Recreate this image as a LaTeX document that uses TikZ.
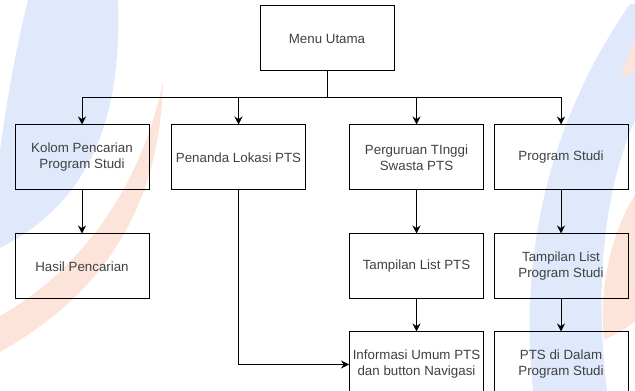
\documentclass[tikz,border=0pt]{standalone}
\usepackage{fontspec}
\setmainfont{Liberation Sans}
\usepackage{tikz}
\usetikzlibrary{positioning}
\usetikzlibrary{arrows.meta}

\definecolor{wmblue}{RGB}{224,233,252}
\definecolor{wmorange}{RGB}{252,228,218}
\definecolor{textgrey}{RGB}{64,64,64}

\begin{document}
\begin{tikzpicture}
[
x=0.75pt, y=-0.75pt,
box-a/.style={rectangle,draw,line width=0.75pt,minimum width=100.5pt,minimum height=48.75pt,
  align=center,text=textgrey,font=\fontsize{10}{12}\selectfont,inner sep=0pt},
arrow-a/.style={line width=0.75pt,-{Stealth[length=6pt,width=6pt]}},
line-a/.style={line width=0.75pt},
]
\useasboundingbox (0,0) rectangle (635,391);
% watermark in the background
\fill[wmblue] (28,0) -- (118,0) .. controls (122,110) and (95,200) .. (0,248)
  -- (0,150) .. controls (8,90) and (18,40) .. (28,0);
\fill[wmorange] (163,82) .. controls (160,200) and (110,290) .. (0,352)
  -- (0,316) .. controls (80,270) and (140,190) .. (163,82);
\fill[wmorange] (635,195) .. controls (612,230) and (598,290) .. (604,340)
  .. controls (620,332) .. (635,322) -- cycle;
\fill[wmblue] (630,4) .. controls (570,90) and (515,220) .. (533,391)
  -- (607,391) .. controls (596,300) and (600,200) .. (635,120) -- (635,4) -- cycle;
\fill[wmorange] (635,40) .. controls (628,55) and (624,66) .. (622,80)
  .. controls (628,74) .. (635,70) -- cycle;

% boxes
\node (menu) [box-a] at (327,38.5)                 {Menu Utama};
\node (kolom) [box-a] at (82,157.5)                {Kolom Pencarian\\Program Studi};
\node (penanda) [box-a] at (238.5,157.5)           {Penanda Lokasi PTS};
\node (pts) [box-a] at (416.5,157.5)               {Perguruan TInggi\\Swasta PTS};
\node (prodi) [box-a] at (561,157.5)               {Program Studi};
\node (hasil) [box-a, below = 32.25pt of kolom]    {Hasil Pencarian};
\node (listpts) [box-a, below = 32.25pt of pts]    {Tampilan List PTS};
\node (listprodi) [box-a, below = 32.25pt of prodi] {Tampilan List\\Program Studi};
\node (info) [box-a, below = 24pt of listpts]      {Informasi Umum PTS\\dan button Navigasi};
\node (dalam) [box-a, below = 24pt of listprodi]   {PTS di Dalam\\Program Studi};

% connectors
\coordinate (bus) at (327,98);
\draw [line-a] (menu) -- (bus);
\draw [arrow-a] (bus) -| (kolom);
\draw [arrow-a] (bus) -| (penanda);
\draw [arrow-a] (bus) -| (pts);
\draw [arrow-a] (bus) -| (prodi);
\draw [arrow-a] (kolom) -- (hasil);
\draw [arrow-a] (pts) -- (listpts);
\draw [arrow-a] (listpts) -- (info);
\draw [arrow-a] (prodi) -- (listprodi);
\draw [arrow-a] (listprodi) -- (dalam);
\draw [arrow-a] (penanda) |- (info);
\end{tikzpicture}
\end{document}
